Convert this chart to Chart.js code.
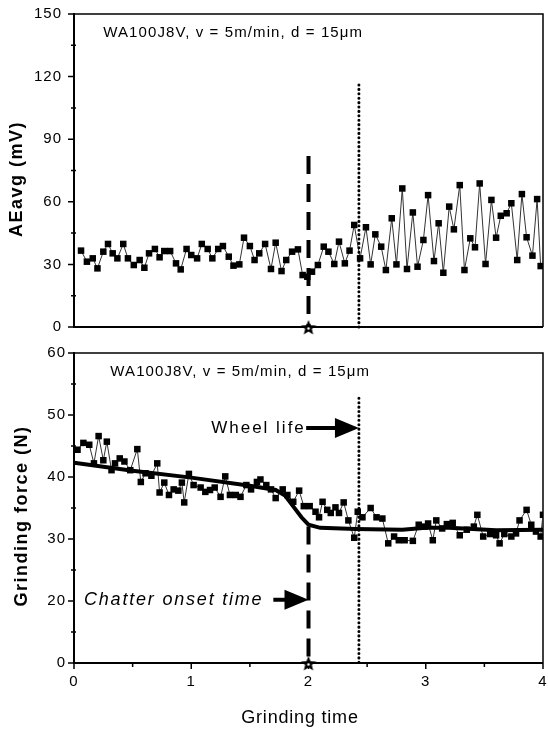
<!DOCTYPE html>
<html><head><meta charset="utf-8">
<script src="https://cdn.jsdelivr.net/npm/chart.js@4.4.1/dist/chart.umd.min.js"></script>
<style>
html,body{margin:0;padding:0;background:#fff;width:548px;height:732px;overflow:hidden}
canvas{position:absolute;left:0;top:0}
</style></head>
<body>
<canvas id="cTop" width="548" height="732"></canvas>
<canvas id="cBot" width="548" height="732"></canvas>
<script>
// ---------- data ----------
const aeTime = [0.06,0.11,0.16,0.20,0.25,0.29,0.33,0.37,0.42,0.46,0.51,0.56,0.60,0.64,0.69,0.73,0.77,0.82,0.87,0.91,0.96,
  1.00,1.05,1.09,1.14,1.18,1.23,1.27,1.32,1.36,1.41,1.45,1.50,1.54,1.58,1.63,1.68,1.72,1.77,1.81,1.86,1.91,1.95,
  1.99,2.03,2.08,2.13,2.17,2.22,2.26,2.31,2.35,2.39,2.44,2.49,2.53,2.57,2.62,2.66,2.71,2.75,2.80,2.84,2.89,2.93,2.98,
  3.02,3.07,3.11,3.15,3.20,3.24,3.29,3.33,3.38,3.42,3.46,3.51,3.56,3.60,3.64,3.69,3.73,3.78,3.82,3.86,3.91,3.95,3.98];
const aeValues = [36.6,31.3,32.9,28.1,36.1,39.8,35.3,32.9,39.8,32.9,
  29.7,32.1,28.4,35.3,37.4,33.4,36.4,36.4,30.5,27.6,
  37.4,34.5,32.9,39.8,37.4,32.9,37.4,38.8,33.7,29.4,
  30.0,42.8,38.8,32.1,35.3,39.8,27.8,40.4,26.8,32.1,
  36.1,37.2,24.9,24.1,26.5,29.7,38.5,36.1,30.2,40.9,
  30.5,36.6,48.9,32.9,47.8,30.0,44.4,38.5,27.3,52.1,
  30.0,66.4,27.8,54.9,28.9,41.7,63.2,31.6,49.7,26.0,
  57.7,46.8,68.0,27.3,42.5,38.2,68.8,30.2,60.9,42.8,
  53.3,54.5,59.3,32.1,63.7,43.0,34.2,61.3,29.2];

const forceTime = [0.03,0.08,0.13,0.17,0.21,0.25,0.28,0.32,0.35,0.39,0.43,0.48,0.54,0.57,0.61,0.66,0.71,0.73,0.77,0.81,
  0.85,0.89,0.92,0.94,0.98,1.02,1.08,1.12,1.16,1.20,1.25,1.29,1.33,1.38,1.42,1.47,1.51,1.56,1.59,1.64,
  1.68,1.72,1.78,1.82,1.87,1.92,1.96,2.01,2.06,2.09,2.12,2.16,2.19,2.23,2.26,2.30,2.34,2.39,2.42,2.46,
  2.53,2.58,2.63,2.68,2.73,2.77,2.82,2.89,2.94,2.99,3.02,3.06,3.09,3.14,3.18,3.23,3.29,3.35,3.41,3.44,
  3.49,3.55,3.60,3.63,3.67,3.73,3.77,3.80,3.86,3.90,3.94,3.98,4.00];
const forceValues = [44.4,45.5,45.2,42.2,46.6,42.7,45.7,41.1,42.2,43.0,42.5,41.1,44.5,39.2,40.6,40.2,42.2,37.5,39.1,37.1,
  38.0,37.8,39.1,35.9,40.5,38.7,38.3,37.6,37.9,38.3,36.8,40.1,37.1,37.1,36.8,38.7,38.0,39.2,39.6,38.7,
  38.0,36.6,38.0,37.1,36.0,37.8,35.3,35.3,34.4,33.5,36.0,34.7,34.2,35.1,34.2,35.9,33.0,30.2,34.4,33.5,
  35.0,33.5,33.3,29.3,30.4,29.8,29.8,29.7,32.3,32.0,32.5,29.8,33.0,31.7,32.4,32.6,30.6,31.5,32.0,33.9,
  30.4,30.8,30.6,29.3,30.8,30.4,30.9,33.0,34.7,32.3,31.2,30.4,33.9];

const fitTime   = [0, 0.5, 1.0, 1.5, 1.72, 1.8, 1.86, 1.94, 2.0, 2.1, 2.4, 2.8, 3.0, 3.2, 3.6, 4.0];
const fitValues = [42.3, 41.0, 39.9, 38.6, 37.9, 37.0, 35.5, 33.5, 32.3, 31.8, 31.6, 31.5, 31.8, 31.8, 31.4, 31.5];

const timeTicks = [0, 1, 2, 3, 4];
const aeTicks = [0, 30, 60, 90, 120, 150];
const forceTicks = [10, 20, 30, 40, 50, 60];
const forceTickLabels = ['0', '20', '30', '40', '50', '60'];

const chatterOnset = 2.0;
const wheelLife = 2.43;
const conditionText = 'WA100J8V, v = 5m/min, d = 15\u03bcm';

// ---------- helpers ----------
const FONT = "'Liberation Sans', Arial, sans-serif";
Chart.defaults.font.family = FONT;
Chart.defaults.color = '#000';

function pts(xs, ys) { return xs.map((x, i) => ({x: x, y: ys[i]})); }

function makeStar(size) {
  const c = document.createElement('canvas');
  c.width = size; c.height = size;
  const g = c.getContext('2d');
  g.beginPath();
  for (let i = 0; i < 10; i++) {
    const r = i % 2 ? size * 0.22 : size * 0.5;
    const a = -Math.PI / 2 + i * Math.PI / 5;
    g.lineTo(size / 2 + r * Math.cos(a), size / 2 + 1 + r * Math.sin(a));
  }
  g.closePath();
  g.fillStyle = '#000';
  g.fill();
  g.beginPath(); g.arc(size / 2, size / 2 + 1.5, 1.3, 0, Math.PI * 2);
  g.fillStyle = '#fff'; g.fill();
  return c;
}
const starImg = makeStar(16);

function txt(ctx, s, x, y, font, spacing, align, rot) {
  ctx.save();
  ctx.font = font;
  ctx.letterSpacing = spacing + 'px';
  ctx.fillStyle = '#000';
  ctx.textAlign = align || 'left';
  ctx.textBaseline = 'middle';
  ctx.translate(x, y);
  if (rot) ctx.rotate(rot);
  ctx.fillText(s, 0, 0);
  ctx.restore();
}
function arrow(ctx, x1, x2, y) {
  ctx.save();
  ctx.fillStyle = '#000'; ctx.strokeStyle = '#000'; ctx.lineWidth = 4;
  ctx.beginPath(); ctx.moveTo(x1, y); ctx.lineTo(x2 - 18, y); ctx.stroke();
  ctx.beginPath(); ctx.moveTo(x2, y); ctx.lineTo(x2 - 24, y - 10); ctx.lineTo(x2 - 24, y + 10); ctx.closePath(); ctx.fill();
  ctx.restore();
}
function frame(chart, majors, minors, xMajors, xMinors) {
  const ctx = chart.ctx, a = chart.chartArea, ys = chart.scales.y, xs = chart.scales.x;
  ctx.save();
  ctx.strokeStyle = '#000';
  ctx.lineWidth = 1.5;
  ctx.beginPath();
  ctx.moveTo(a.left, a.top); ctx.lineTo(a.right, a.top); ctx.lineTo(a.right, a.bottom);
  ctx.stroke();
  ctx.lineWidth = 2;
  ctx.beginPath();
  ctx.moveTo(a.left, a.top - 1); ctx.lineTo(a.left, a.bottom); ctx.lineTo(a.right, a.bottom);
  ctx.stroke();
  ctx.lineWidth = 1.5;
  ctx.beginPath();
  majors.forEach(v => { const p = ys.getPixelForValue(v); ctx.moveTo(a.left - 6, p); ctx.lineTo(a.left, p); });
  minors.forEach(v => { const p = ys.getPixelForValue(v); ctx.moveTo(a.left - 3, p); ctx.lineTo(a.left + 2, p); });
  (xMajors || []).forEach(v => { const p = xs.getPixelForValue(v); ctx.moveTo(p, a.bottom); ctx.lineTo(p, a.bottom + 6); });
  (xMinors || []).forEach(v => { const p = xs.getPixelForValue(v); ctx.moveTo(p, a.bottom); ctx.lineTo(p, a.bottom + 4); });
  ctx.stroke();
  ctx.restore();
}

const spacingPlugin = {
  id: 'spacing',
  beforeDraw(chart) { chart.ctx.letterSpacing = '1px'; }
};

function vline(x, y0, y1, dash, width, order, cap) {
  return {
    data: [{x: x, y: y1}, {x: x, y: y0}],
    showLine: true, borderColor: '#000', borderWidth: width, borderDash: dash,
    borderCapStyle: cap || 'butt',
    pointRadius: 0, order: order, clip: false
  };
}

const commonY = (min, max, step, pad) => ({
  type: 'linear', min: min, max: max,
  ticks: {stepSize: step, padding: pad, font: {size: 15}, color: '#000'},
  grid: {display: false, drawTicks: false},
  border: {display: false},
  afterFit(s) { s.width = 74; s.paddingTop = 0; s.paddingBottom = 0; }
});

const squareStyle = {showLine: true, borderColor: '#333', borderWidth: 1,
  pointStyle: 'rect', pointRadius: 4.6, pointBackgroundColor: '#000', pointBorderWidth: 0};

// ---------- top chart : AEavg ----------
new Chart(document.getElementById('cTop'), {
  type: 'scatter',
  data: {
    datasets: [
      {data: [{x: chatterOnset, y: 0}], pointStyle: starImg, order: 0, clip: false},
      vline(chatterOnset, 0, 82, [18, 10], 4, 1),
      vline(wheelLife, 0, 116, [0.1, 4.3], 3, 1, 'round'),
      Object.assign({data: pts(aeTime, aeValues), order: 3}, squareStyle)
    ]
  },
  options: {
    responsive: false, animation: false, devicePixelRatio: 1, events: [],
    layout: {padding: {top: 14, bottom: 405, left: 0, right: 1}},
    plugins: {legend: {display: false}, tooltip: {enabled: false}},
    scales: {
      x: {type: 'linear', min: 0, max: 4,
          ticks: {display: false}, grid: {display: false, drawTicks: false}, border: {display: false},
          afterFit(s) { s.height = 0; s.paddingLeft = 0; s.paddingRight = 0; }},
      y: Object.assign(commonY(0, 150, 30, 12), {
          afterTickToLabelConversion(s) { s.ticks = aeTicks.map(v => ({value: v, label: String(v)})); }
      })
    }
  },
  plugins: [spacingPlugin, {
    id: 'decoTop',
    beforeDatasetsDraw(chart) { frame(chart, aeTicks, [15, 45, 75, 105, 135]); },
    afterDatasetsDraw(chart) {
      const ctx = chart.ctx, xs = chart.scales.x, ys = chart.scales.y;
      txt(ctx, conditionText, xs.getPixelForValue(0.25), ys.getPixelForValue(141), '15px ' + FONT, 1.1, 'left');
      txt(ctx, 'AEavg (mV)', 17, 179, 'bold 18px ' + FONT, 1.5, 'center', -Math.PI / 2);
    }
  }]
});

// ---------- bottom chart : grinding force ----------
new Chart(document.getElementById('cBot'), {
  type: 'scatter',
  data: {
    datasets: [
      {data: [{x: chatterOnset, y: 10}], pointStyle: starImg, order: 0, clip: false},
      vline(chatterOnset, 10, 32, [18, 10], 4, 1),
      vline(wheelLife, 10, 52.7, [0.1, 4.3], 3, 1, 'round'),
      {data: pts(fitTime, fitValues), showLine: true, borderColor: '#000', borderWidth: 4,
       pointRadius: 0, order: 2},
      Object.assign({data: pts(forceTime, forceValues), order: 3}, squareStyle)
    ]
  },
  options: {
    responsive: false, animation: false, devicePixelRatio: 1, events: [],
    layout: {padding: {top: 353, bottom: 0, left: 0, right: 1}},
    plugins: {legend: {display: false}, tooltip: {enabled: false}},
    scales: {
      x: {type: 'linear', min: 0, max: 4,
          ticks: {stepSize: 1, padding: 10, font: {size: 15}, color: '#000'},
          grid: {display: false, drawTicks: false}, border: {display: false},
          afterTickToLabelConversion(s) { s.ticks = timeTicks.map(v => ({value: v, label: String(v)})); },
          afterFit(s) { s.height = 69; s.paddingLeft = 0; s.paddingRight = 0; }},
      y: Object.assign(commonY(10, 60, 10, 8), {
          afterTickToLabelConversion(s) { s.ticks = forceTicks.map((v, i) => ({value: v, label: forceTickLabels[i]})); }
      })
    }
  },
  plugins: [spacingPlugin, {
    id: 'decoBot',
    beforeDatasetsDraw(chart) { frame(chart, forceTicks, [15, 25, 35, 45, 55], timeTicks, [0.5, 1.5, 2.5, 3.5]); },
    afterDatasetsDraw(chart) {
      const ctx = chart.ctx, xs = chart.scales.x, ys = chart.scales.y;
      txt(ctx, conditionText, xs.getPixelForValue(0.31), ys.getPixelForValue(56.9), '15px ' + FONT, 1.1, 'left');
      txt(ctx, 'Wheel life', xs.getPixelForValue(1.17), ys.getPixelForValue(47.9), '17px ' + FONT, 2, 'left');
      arrow(ctx, xs.getPixelForValue(1.98), xs.getPixelForValue(wheelLife), ys.getPixelForValue(47.9));
      txt(ctx, 'Chatter onset time', xs.getPixelForValue(0.085), ys.getPixelForValue(20.2), 'italic 18px ' + FONT, 1.8, 'left');
      arrow(ctx, xs.getPixelForValue(1.70), xs.getPixelForValue(chatterOnset), ys.getPixelForValue(20.2));
      txt(ctx, 'Grinding force (N)', 22, 516, 'bold 18px ' + FONT, 1.5, 'center', -Math.PI / 2);
      txt(ctx, 'Grinding time', 300, 718, '18px ' + FONT, 0.8, 'center');
    }
  }]
});
</script>
</body></html>
